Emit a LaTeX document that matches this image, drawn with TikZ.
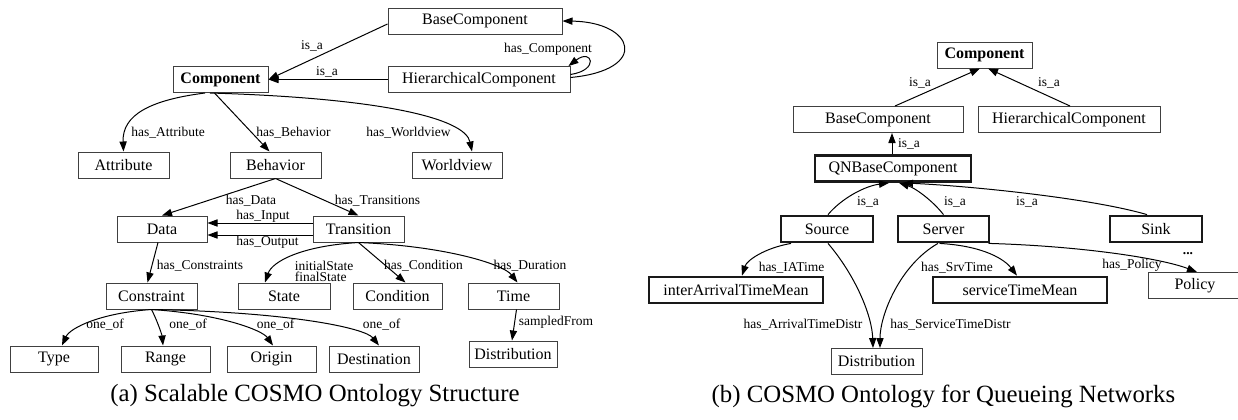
\documentclass[tikz,border=0pt]{standalone}
\usepackage{fontspec}
\setmainfont{Liberation Serif}
\usetikzlibrary{arrows.meta}
\tikzset{
  box/.style={draw=black!75, line width=0.5pt, minimum height=13pt, inner sep=0pt, font=\fontsize{8}{9}\selectfont},
  tbox/.style={box, draw=black!90, line width=1.4pt},
  lbl/.style={inner sep=0pt, font=\fontsize{6.75}{5.6}\selectfont},
  edge/.style={line width=0.5pt, -{Triangle[length=5pt,width=3.6pt]}},
  captext/.style={inner sep=0pt, font=\fontsize{12.4}{14}\selectfont},
}
\begin{document}
\begin{tikzpicture}[x=0.5pt, y=-0.5pt]
\useasboundingbox (0,0) rectangle (1238,419);
% ---------- left diagram ----------
\node[box, minimum width=87pt] (BaseL) at (475,21) {BaseComponent};
\node[box, minimum width=91pt] (HierL) at (479,79.5) {HierarchicalComponent};
\node[box, minimum width=47.5pt] (CompL) at (220.5,79.5) {\bfseries Component};
\node[box, minimum width=45.5pt] (Attr) at (123.5,165) {Attribute};
\node[box, minimum width=45.5pt] (Behav) at (275.5,165) {Behavior};
\node[box, minimum width=45pt] (World) at (457,165) {Worldview};
\node[box, minimum width=45pt] (Data) at (162,229) {Data};
\node[box, minimum width=45.5pt] (Trans) at (358.5,229) {Transition};
\node[box, minimum width=45.5pt] (Constr) at (151.5,296) {Constraint};
\node[box, minimum width=46pt] (State) at (284,296) {State};
\node[box, minimum width=44.5pt] (Cond) at (397.5,296) {Condition};
\node[box, minimum width=45.5pt] (Time) at (513.5,296) {Time};
\node[box, minimum width=44pt] (Type) at (54,359) {Type};
\node[box, minimum width=44.5pt] (Range) at (165.5,359) {Range};
\node[box, minimum width=44.5pt] (Origin) at (271.5,359) {Origin};
\node[box, minimum width=45pt] (Dest) at (374,359) {Destination};
\node[box, minimum width=44pt] (DistL) at (513,354) {Distribution};

\draw[edge] ([yshift=-1.5pt]BaseL.west) -- (CompL.east);
\draw[edge] (HierL.west) -- (CompL.east);
\draw[edge] ([yshift=1pt]HierL.east) .. controls (650,70) and (635,22) .. (BaseL.east);
\draw[edge] ([yshift=2.5pt]HierL.east) .. controls (600,70) and (592,48) .. ([xshift=-1pt]HierL.north east);
\draw[edge] ([xshift=-7.75pt]CompL.south) .. controls (150,100) and (122,115) .. (Attr.north);
\draw[edge] ([xshift=-3pt]CompL.south) -- ([xshift=-3pt]Behav.north);
\draw[edge] ([xshift=-5.25pt]CompL.south) .. controls (380,98) and (465,118) .. ([xshift=7.5pt]World.north);
\draw[edge] (Behav.south) -- (Data.north);
\draw[edge] (Behav.south) -- (Trans.north);
\draw[edge] ([yshift=3pt]Trans.west) -- ([yshift=3pt]Data.east);
\draw[edge] ([yshift=-3pt]Trans.west) -- ([yshift=-3pt]Data.east);
\draw[edge] ([xshift=-2pt]Data.south) -- ([xshift=-2pt]Constr.north);
\draw[edge] (Trans.south) .. controls (300,246) and (272,262) .. ([xshift=-9.5pt]State.north);
\draw[edge] (Trans.south) -- ([xshift=4pt]Cond.north);
\draw[edge] (Trans.south) .. controls (445,246) and (503,264) .. ([xshift=2pt]Time.north);
\draw[edge] (Constr.south) .. controls (100,313) and (70,328) .. ([xshift=4pt]Type.north);
\draw[edge] (Constr.south) .. controls (157,320) and (162,335) .. ([xshift=-1.25pt]Range.north);
\draw[edge] (Constr.south) .. controls (220,314) and (262,330) .. ([xshift=0.75pt]Origin.north);
\draw[edge] (Constr.south) .. controls (290,312) and (365,328) .. ([xshift=2.5pt]Dest.north);
\draw[edge] ([xshift=1.5pt]Time.south) -- ([xshift=-0.5pt]DistL.north);

\node[lbl] (la1) at (312,46) {is\_a};
\node[lbl] (la2) at (327,72) {is\_a};
\node[lbl] (la3) at (548,49) {has\_Component};
\node[lbl] (la4) at (168,133) {has\_Attribute};
\node[lbl] (la5) at (293.5,133) {has\_Behavior};
\node[lbl] (la6) at (408.5,133) {has\_Worldview};
\node[lbl] (la7) at (251,201) {has\_Data};
\node[lbl] (la8) at (377.5,201) {has\_Transitions};
\node[lbl] (la9) at (263,216) {has\_Input};
\node[lbl] (la10) at (267.5,242) {has\_Output};
\node[lbl] (la11) at (200,266) {has\_Constraints};
\node[lbl, align=left] (la12) at (324,271) {initialState\\finalState};
\node[lbl] (la13) at (423.5,266) {has\_Condition};
\node[lbl] (la14) at (530,266) {has\_Duration};
\node[lbl] (la15) at (105,325) {one\_of};
\node[lbl] (la16) at (188,325) {one\_of};
\node[lbl] (la17) at (275.5,325) {one\_of};
\node[lbl] (la18) at (381.5,325) {one\_of};
\node[lbl] (la19) at (556,322) {sampledFrom};

% ---------- right diagram ----------
\node[box, minimum width=47.5pt] (CompR) at (984.5,55) {\bfseries Component};
\node[box, minimum width=85pt] (BaseR) at (878,119.5) {BaseComponent};
\node[box, minimum width=91pt] (HierR) at (1069,119.5) {HierarchicalComponent};
\node[tbox, minimum width=78pt] (QNB) at (893,168.5) {QNBaseComponent};
\node[tbox, minimum width=46pt] (Source) at (827,229) {Source};
\node[tbox, minimum width=45.5pt] (Server) at (943.5,229) {Server};
\node[tbox, minimum width=46pt] (Sink) at (1156,229) {Sink};
\node[tbox, minimum width=87pt] (IAT) at (736,290) {interArrivalTimeMean};
\node[tbox, minimum width=87pt] (STM) at (1020,290) {serviceTimeMean};
\node[box, minimum width=47pt] (Policy) at (1195,285.5) {Policy};
\node[box, minimum width=45.5pt] (DistR) at (876.5,361.5) {Distribution};

\draw[edge] ([xshift=8.5pt]BaseR.north) -- ([xshift=-2.25pt]CompR.south);
\draw[edge] ([xshift=0.5pt]HierR.north) -- ([xshift=1.75pt]CompR.south);
\draw[edge] ([xshift=-0.5pt]QNB.north) -- ([xshift=7pt]BaseR.south);
\draw[edge] ([xshift=0.5pt]Source.north) .. controls (842,198) and (865,186) .. ([xshift=-2pt]QNB.south);
\draw[edge] (Server.north) .. controls (932,200) and (915,188) .. ([xshift=3pt]QNB.south);
\draw[edge] ([xshift=-4.5pt]Sink.north) .. controls (1090,198) and (970,186) .. ([xshift=5pt]QNB.south);
\draw[edge] ([xshift=-18pt]Source.south) .. controls (765,248) and (747,260) .. ([xshift=3pt]IAT.north);
\draw[edge] ([xshift=0.5pt]Source.south) .. controls (855,275) and (872,315) .. ([xshift=-1.75pt]DistR.north);
\draw[edge] ([xshift=-2.75pt]Server.south) .. controls (900,265) and (880,315) .. ([xshift=1.75pt]DistR.north);
\draw[edge] ([xshift=-2pt]Server.south) .. controls (985,246) and (1005,260) .. ([xshift=-1.5pt]STM.north);
\draw[edge] ([xshift=22.5pt]Server.south) .. controls (1080,246) and (1160,258) .. ([xshift=1pt]Policy.north);

\node[lbl] (lb1) at (920,83) {is\_a};
\node[lbl] (lb2) at (1049,83) {is\_a};
\node[lbl] (lb3) at (909,144) {is\_a};
\node[lbl] (lb4) at (868,202) {is\_a};
\node[lbl] (lb5) at (955,202) {is\_a};
\node[lbl] (lb6) at (1027,202) {is\_a};
\node[lbl] (lb7) at (791.5,268) {has\_IATime};
\node[lbl] (lb8) at (957,268) {has\_SrvTime};
\node[lbl] (lb9) at (1132,265) {has\_Policy};
\node[lbl] (lb10) at (1188,254) {\bfseries ...};
\node[lbl] (lb11) at (803,325) {has\_ArrivalTimeDistr};
\node[lbl] (lb12) at (950.5,325) {has\_ServiceTimeDistr};

% ---------- captions ----------
\node[captext] (capa) at (315,396) {(a) Scalable COSMO Ontology Structure};
\node[captext] (capb) at (943.5,396) {(b) COSMO Ontology for Queueing Networks};
\end{tikzpicture}
\end{document}
